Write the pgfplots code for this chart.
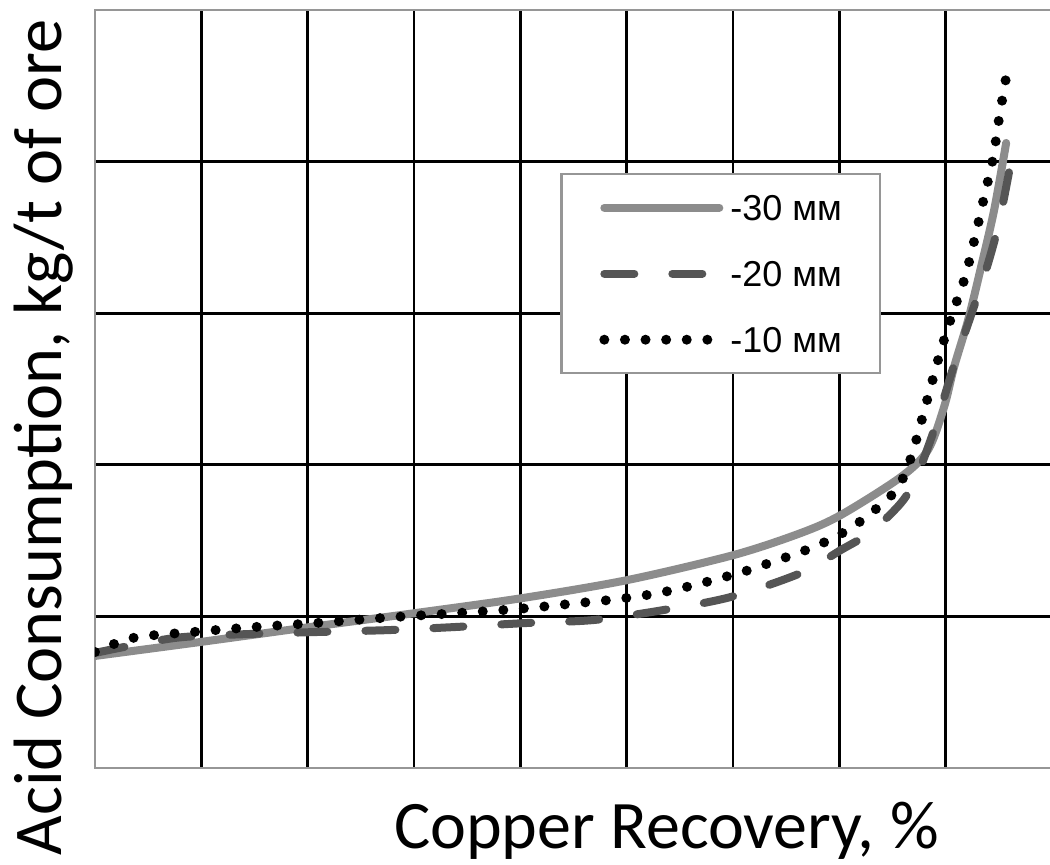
\documentclass[border=0pt]{standalone}
\usepackage{pgfplots}
\pgfplotsset{compat=1.18}
\usepackage{fontspec}
\setmainfont{Carlito}
\newfontfamily\legfont{Liberation Sans}
\definecolor{cSolid}{RGB}{140,140,140}
\definecolor{cDash}{RGB}{85,85,85}
\definecolor{cFrame}{RGB}{150,150,150}

\pgfplotstableread{
x y
0.000 0.739
0.989 0.831
2.024 0.930
3.013 1.022
4.021 1.121
5.009 1.240
6.008 1.405
6.638 1.550
7.015 1.669
7.580 1.920
7.834 2.098
7.985 2.381
8.079 2.645
8.211 2.955
8.333 3.305
8.456 3.681
8.569 4.123
}\thirty

\pgfplotstableread{
x y
0.000 0.759
0.753 0.858
1.460 0.884
2.090 0.897
2.778 0.910
3.390 0.930
4.049 0.956
4.689 0.976
5.348 1.042
5.979 1.128
6.638 1.286
7.015 1.438
7.298 1.557
7.580 1.748
7.721 1.913
7.891 2.230
8.079 2.658
8.239 2.988
8.380 3.285
8.503 3.602
8.635 4.077
}\twenty

\pgfplotstableread{
x y
0.000 0.765
0.358 0.858
0.923 0.897
1.507 0.930
2.072 0.956
2.825 0.996
3.409 1.022
3.974 1.049
4.548 1.088
4.925 1.115
5.301 1.154
5.678 1.214
6.055 1.286
6.234 1.326
6.761 1.458
7.109 1.583
7.411 1.748
7.560 1.860
7.680 2.060
7.844 2.474
7.947 2.737
8.060 2.988
8.183 3.239
8.277 3.503
8.362 3.766
8.446 4.024
8.503 4.288
8.569 4.558
}\ten

\begin{document}
\begin{tikzpicture}
\path[use as bounding box] (-47.5pt,-48.5pt) rectangle (477.5pt,384pt);
\begin{axis}[
  at={(0,0)}, anchor=south west,
  scale only axis, width=478.5pt, height=379pt,
  xmin=0, xmax=9, ymin=0, ymax=5,
  xtick={0,1,...,9}, ytick={0,1,...,5},
  xticklabels={}, yticklabels={},
  major tick length=0pt,
  grid=major,
  major grid style={black, line width=1.4pt},
  axis line style={draw=cFrame, line width=1.3pt},
  xlabel={Copper Recovery, \%},
  ylabel={Acid Consumption, kg/t of ore},
  xlabel style={font=\fontsize{34}{40}\selectfont, at={(axis description cs:0.597,-0.106)}, anchor=base},
  ylabel style={font=\fontsize{34.2}{40}\selectfont, at={(axis description cs:-0.0345,0.436)}, anchor=base},
  legend style={at={(axis description cs:0.486,0.785)}, anchor=north west,
    draw=cFrame, line width=1.25pt, fill=white,
    font=\legfont\fontsize{18}{20}\selectfont,
    nodes={inner sep=0pt, text height=12.5pt, text depth=0pt},
    column sep=3pt, row sep=20.5pt, inner xsep=19pt, inner ysep=10.5pt},
  legend cell align=left,
  legend image code/.code={\draw (2pt,0pt) -- (59.5pt,0pt);},
  clip=true,
]
\addplot[cSolid, line width=4pt, line cap=round, smooth, tension=0.5] table[x=x,y=y] {\thirty};
\addlegendentry{-30 мм}
\addplot[cDash, line width=4pt, line cap=round, dash pattern=on 15pt off 19pt, smooth, tension=0.5] table[x=x,y=y] {\twenty};
\addlegendentry{-20 мм}
\addplot[black, line width=5pt, line cap=round, dash pattern=on 0pt off 10.3pt, smooth, tension=0.5] table[x=x,y=y] {\ten};
\addlegendentry{-10 мм}
\end{axis}
\end{tikzpicture}
\end{document}
